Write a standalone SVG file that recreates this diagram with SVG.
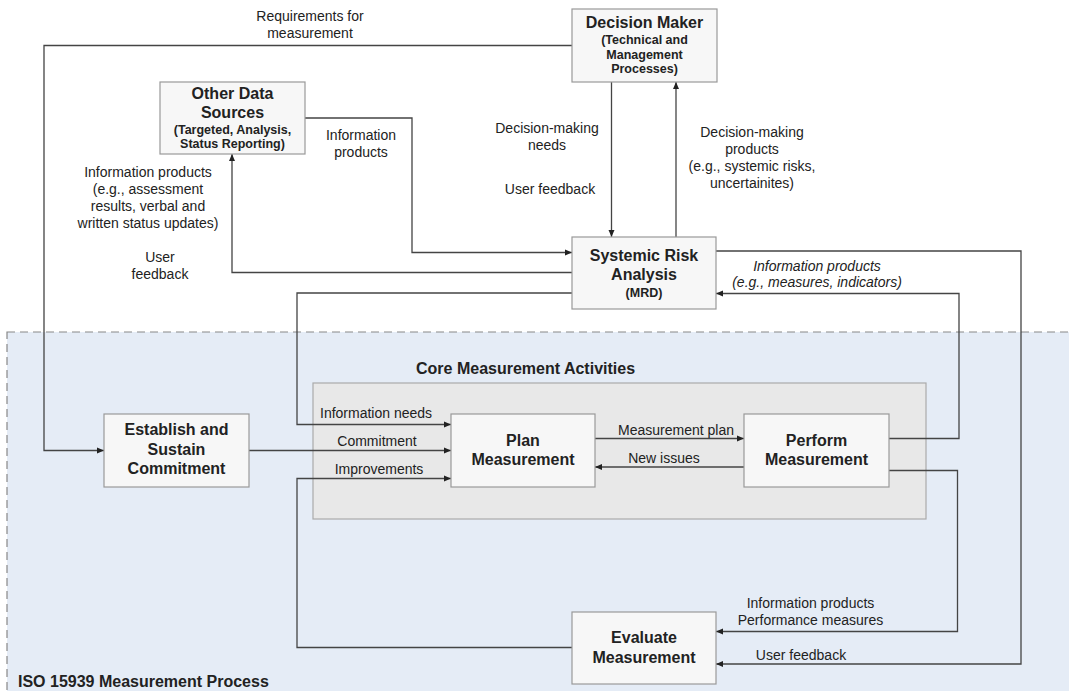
<svg xmlns="http://www.w3.org/2000/svg" width="1069" height="691" viewBox="0 0 1069 691">
<defs>
<marker id="ah" markerWidth="8" markerHeight="8" refX="7" refY="4" orient="auto" markerUnits="userSpaceOnUse">
<path d="M0,1 L7,4 L0,7 Z" fill="#222"/>
</marker>
<style>
.node rect{fill:#f7f7f7;stroke:#999;stroke-width:1.2}
.t{font-family:"Liberation Sans",Arial,sans-serif;fill:#222;text-anchor:middle}
.b{font-weight:bold;font-size:16px}
.s{font-weight:bold;font-size:12.5px}
.l{font-size:14px}
.i{font-style:italic}
.c{fill:none;stroke:#444;stroke-width:1.3}
.a{marker-end:url(#ah)}
</style>
</defs>
<rect width="1069" height="691" fill="#fff"/>
<g id="iso-process">
<rect x="7" y="332" width="1070" height="370" fill="#e5ecf6" stroke="#888" stroke-width="1.2" stroke-dasharray="8,5"/>
<text class="t b" x="18" y="687" style="text-anchor:start">ISO 15939 Measurement Process</text>
</g>
<g id="core-activities">
<rect x="313" y="383" width="613" height="136" fill="#e8e8e8" stroke="#aaa" stroke-width="1.2"/>
<text class="t b" x="416" y="374" style="text-anchor:start">Core Measurement Activities</text>
</g>
<g id="connectors">
<path class="c a" d="M572,45.5 H44 V450.5 H104"/>
<path class="c a" d="M611.5,82 V237"/>
<path class="c a" d="M676,237 V82"/>
<path class="c a" d="M305,118 H412 V252.5 H572"/>
<path class="c a" d="M572,272.5 H232 V154"/>
<path class="c a" d="M572,293 H297 V424.5 H451"/>
<path class="c a" d="M249,450.5 H451"/>
<path class="c a" d="M572,647.5 H297 V478.5 H451"/>
<path class="c a" d="M595,438.5 H744"/>
<path class="c a" d="M744,467 H595"/>
<path class="c a" d="M889,438.5 H959 V293.5 H716"/>
<path class="c a" d="M716,251 H1021 V664 H716"/>
<path class="c a" d="M889,470.5 H957.5 V631.5 H716"/>
<text class="t l" x="310" y="21">Requirements for</text>
<text class="t l" x="310" y="38">measurement</text>
<text class="t l" x="547" y="133">Decision-making</text>
<text class="t l" x="547" y="150">needs</text>
<text class="t l" x="550" y="194">User feedback</text>
<text class="t l" x="752" y="137">Decision-making</text>
<text class="t l" x="752" y="154">products</text>
<text class="t l" x="752" y="171">(e.g., systemic risks,</text>
<text class="t l" x="752" y="188">uncertainites)</text>
<text class="t l" x="361" y="140">Information</text>
<text class="t l" x="361" y="157">products</text>
<text class="t l" x="148" y="177">Information products</text>
<text class="t l" x="148" y="194">(e.g., assessment</text>
<text class="t l" x="148" y="211">results, verbal and</text>
<text class="t l" x="148" y="228">written status updates)</text>
<text class="t l" x="160" y="262">User</text>
<text class="t l" x="160" y="279">feedback</text>
<text class="t l i" x="817" y="271">Information products</text>
<text class="t l i" x="817" y="287">(e.g., measures, indicators)</text>
<text class="t l" x="320" y="418" style="text-anchor:start">Information needs</text>
<text class="t l" x="377" y="445.5">Commitment</text>
<text class="t l" x="379" y="474">Improvements</text>
<text class="t l" x="676" y="435">Measurement plan</text>
<text class="t l" x="664" y="462.5">New issues</text>
<text class="t l" x="810.5" y="607.5">Information products</text>
<text class="t l" x="810.5" y="624.5">Performance measures</text>
<text class="t l" x="801" y="660">User feedback</text>
</g>
<g id="decision-maker" class="node">
<rect x="572" y="9" width="145" height="73"/>
<text class="t b" x="644.5" y="28">Decision Maker</text>
<text class="t s" x="644.5" y="44">(Technical and</text>
<text class="t s" x="644.5" y="58.5">Management</text>
<text class="t s" x="644.5" y="73">Processes)</text>
</g>
<g id="other-data-sources" class="node">
<rect x="160" y="82" width="145" height="72"/>
<text class="t b" x="232.5" y="99">Other Data</text>
<text class="t b" x="232.5" y="118">Sources</text>
<text class="t s" x="232.5" y="133.5">(Targeted, Analysis,</text>
<text class="t s" x="232.5" y="148">Status Reporting)</text>
</g>
<g id="systemic-risk-analysis" class="node">
<rect x="572" y="237" width="144" height="72"/>
<text class="t b" x="644" y="261">Systemic Risk</text>
<text class="t b" x="644" y="280">Analysis</text>
<text class="t s" x="644" y="296.5">(MRD)</text>
</g>
<g id="establish-commitment" class="node">
<rect x="104" y="414" width="145" height="73"/>
<text class="t b" x="176.5" y="435">Establish and</text>
<text class="t b" x="176.5" y="454.5">Sustain</text>
<text class="t b" x="176.5" y="474">Commitment</text>
</g>
<g id="plan-measurement" class="node">
<rect x="451" y="414" width="144" height="73"/>
<text class="t b" x="523" y="445.5">Plan</text>
<text class="t b" x="523" y="465">Measurement</text>
</g>
<g id="perform-measurement" class="node">
<rect x="744" y="414" width="145" height="73"/>
<text class="t b" x="816.5" y="445.5">Perform</text>
<text class="t b" x="816.5" y="465">Measurement</text>
</g>
<g id="evaluate-measurement" class="node">
<rect x="572" y="612" width="144" height="72"/>
<text class="t b" x="644" y="643">Evaluate</text>
<text class="t b" x="644" y="662.5">Measurement</text>
</g>
</svg>
